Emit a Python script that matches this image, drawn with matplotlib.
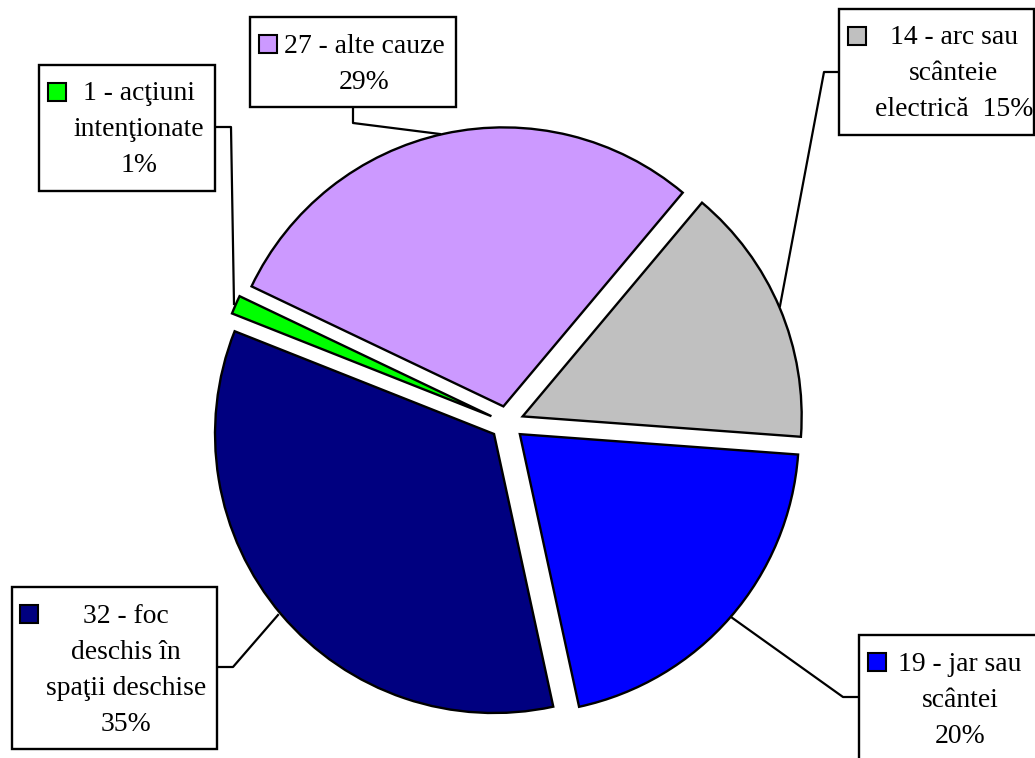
import matplotlib
matplotlib.use("Agg")
import matplotlib.pyplot as plt
from matplotlib.patches import Rectangle

# ---- data ----
categories = ["arc sau scânteie electrică", "jar sau scântei",
              "foc deschis în spaţii deschise", "acţiuni intenţionate", "alte cauze"]
values = [14, 19, 32, 1, 27]
colors = ["#C0C0C0", "#0000FF", "#000080", "#00FF00", "#CC99FF"]
label_lines = [
    ["14 - arc sau", "scânteie", "electrică  15%"],
    ["19 - jar sau", "scântei", "20%"],
    ["32 - foc", "deschis în", "spaţii deschise", "35%"],
    ["1 - acţiuni", "intenţionate", "1%"],
    ["27 - alte cauze", "29%"],
]

W, H = 1035, 758
fig = plt.figure(figsize=(W / 100, H / 100), dpi=100)
ax = fig.add_axes([0, 0, 1, 1])

def Y(y):  # image y (down) -> data y (up)
    return H - y

# pie in pixel units
cx, cy, R, ex = 507, 423, 279, 17
ax.pie(values, colors=colors, startangle=50, counterclock=False,
       center=(cx, Y(cy)), radius=R, explode=[ex] * len(values),
       wedgeprops=dict(edgecolor="black", linewidth=1.7))

ax.set_xlim(0, W)
ax.set_ylim(0, H)
ax.set_aspect("equal")
ax.axis("off")

FONT = "Liberation Serif"
FS = 19.9

layout = [
    dict(box=(839, 9, 1034, 135), mk=(848, 27), tx=954, ty=44,
         lead=[(839, 72), (824, 72), (780, 306)]),
    dict(box=(859, 635, 1040, 765), mk=(868, 653), tx=960, ty=671,
         lead=[(859, 697), (843, 697), (731, 617)]),
    dict(box=(12, 587, 217, 749), mk=(20, 605), tx=126, ty=623,
         lead=[(217, 667), (233, 667), (278, 615)]),
    dict(box=(39, 65, 215, 191), mk=(48, 83), tx=139, ty=100,
         lead=[(215, 127), (231, 127), (234, 304)]),
    dict(box=(250, 17, 456, 107), mk=(259, 35), tx=364, ty=53,
         lead=[(353, 107), (353, 123), (440, 134)]),
]

LS = 36
for lines, col, L in zip(label_lines, colors, layout):
    x0, y0, x1, y1 = L["box"]
    ax.add_patch(Rectangle((x0, Y(y1)), x1 - x0, y1 - y0, facecolor="white",
                           edgecolor="black", linewidth=1.7, clip_on=False, zorder=3))
    mx, my = L["mk"]
    ax.add_patch(Rectangle((mx, Y(my + 18)), 18, 18, facecolor=col,
                           edgecolor="black", linewidth=1.5, clip_on=False, zorder=4))
    for i, s in enumerate(lines):
        ax.text(L["tx"], Y(L["ty"] + i * LS), s, ha="center", va="baseline",
                fontsize=FS, family=FONT, zorder=5)
    xs = [p[0] for p in L["lead"]]
    ys = [Y(p[1]) for p in L["lead"]]
    ax.plot(xs, ys, color="black", linewidth=1.6, zorder=2, clip_on=False)

fig.savefig("out.png", dpi=100)
